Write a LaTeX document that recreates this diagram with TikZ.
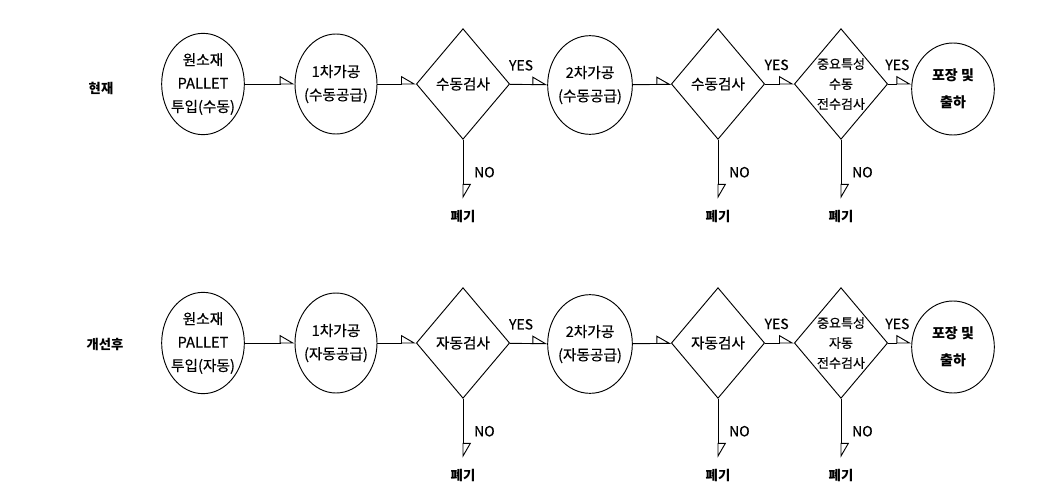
\documentclass[tikz,border=0pt]{standalone}
\usepackage{fontspec}
\setmainfont{Noto Sans CJK KR}
\newfontfamily\heavyfont[FakeBold=0.4]{Noto Sans CJK KR}
\usetikzlibrary{arrows.meta}
\usetikzlibrary{shapes.geometric}

\begin{document}
\begin{tikzpicture}[x=0.75pt, y=-0.75pt, line width=0.7pt,
  stage/.style={ellipse, draw, align=center, inner sep=-6pt, font=\heavyfont\fontsize{11}{17.5}\selectfont},
  check/.style={diamond, draw, align=center, inner sep=-6pt, minimum width=70pt, minimum height=83pt, font=\heavyfont\fontsize{11}{14}\selectfont},
  keycheck/.style={check, font=\heavyfont\fontsize{9.8}{15}\selectfont},
  flow/.style={-{Triangle[open, left, length=10.5pt, width=12pt]}},
  drop/.style={font=\bfseries\fontsize{10}{12}\selectfont, inner sep=0pt, outer sep=9pt},
  rowlabel/.style={font=\bfseries\fontsize{10}{12}\selectfont},
  answer/.style={font=\heavyfont\fontsize{10.5}{12}\selectfont, inner sep=0pt}]
\useasboundingbox (0,0) rectangle (1056,503);

% current process
\node(lab1)[rowlabel] at (101,88) {현재};
\node(raw1)[stage, minimum width=62pt, minimum height=76pt] at (203,84) {원소재\\PALLET\\투입(수동)};
\node(cut1a)[stage, minimum width=61.5pt, minimum height=75pt] at (336,84) {1차가공\\(수동공급)};
\node(chk1a)[check] at (463,84) {수동검사};
\node(cut1b)[stage, minimum width=63.5pt, minimum height=74pt] at (590,85) {2차가공\\(수동공급)};
\node(chk1b)[check] at (718,84) {수동검사};
\node(chk1c)[keycheck] at (841,84) {중요특성\\수동\\전수검사};
\node(ship1)[stage, minimum width=62pt, minimum height=69pt, font=\bfseries\fontsize{10.5}{20}\selectfont] at (953,89) {포장 및\\출하};
\node(drop1a)[drop] at (463,217) {폐기};
\node(drop1b)[drop] at (718,217) {폐기};
\node(drop1c)[drop] at (841,217) {폐기};

\draw[flow] (raw1) -- (cut1a);
\draw[flow] (cut1a) -- (chk1a);
\draw[flow] (chk1a) -- node(yes1a)[answer, above=10pt, pos=0.3] {YES} (cut1b);
\draw[flow] (cut1b) -- (chk1b);
\draw[flow] (chk1b) -- node(yes1b)[answer, above=10pt, pos=0.4] {YES} (chk1c);
\draw[flow] (chk1c.east) -- node(yes1c)[answer, above=10pt, pos=0.4] {YES} (chk1c.east -| ship1.west);
\draw[flow] (chk1a) -- node(no1a)[answer, right=8pt, pos=0.55] {NO} (drop1a);
\draw[flow] (chk1b) -- node(no1b)[answer, right=8pt, pos=0.55] {NO} (drop1b);
\draw[flow] (chk1c) -- node(no1c)[answer, right=8pt, pos=0.55] {NO} (drop1c);

% improved process
\node(lab2)[rowlabel] at (105,345) {개선후};
\node(raw2)[stage, minimum width=62pt, minimum height=76pt] at (203,343) {원소재\\PALLET\\투입(자동)};
\node(cut2a)[stage, minimum width=61.5pt, minimum height=75pt] at (336,343) {1차가공\\(자동공급)};
\node(chk2a)[check] at (463,343) {자동검사};
\node(cut2b)[stage, minimum width=63.5pt, minimum height=74pt] at (590,344) {2차가공\\(자동공급)};
\node(chk2b)[check] at (718,343) {자동검사};
\node(chk2c)[keycheck] at (841,343) {중요특성\\자동\\전수검사};
\node(ship2)[stage, minimum width=62pt, minimum height=69pt, font=\bfseries\fontsize{10.5}{20}\selectfont] at (953,347) {포장 및\\출하};
\node(drop2a)[drop] at (463,476) {폐기};
\node(drop2b)[drop] at (718,476) {폐기};
\node(drop2c)[drop] at (841,476) {폐기};

\draw[flow] (raw2) -- (cut2a);
\draw[flow] (cut2a) -- (chk2a);
\draw[flow] (chk2a) -- node(yes2a)[answer, above=10pt, pos=0.3] {YES} (cut2b);
\draw[flow] (cut2b) -- (chk2b);
\draw[flow] (chk2b) -- node(yes2b)[answer, above=10pt, pos=0.4] {YES} (chk2c);
\draw[flow] (chk2c.east) -- node(yes2c)[answer, above=10pt, pos=0.4] {YES} (chk2c.east -| ship2.west);
\draw[flow] (chk2a) -- node(no2a)[answer, right=8pt, pos=0.55] {NO} (drop2a);
\draw[flow] (chk2b) -- node(no2b)[answer, right=8pt, pos=0.55] {NO} (drop2b);
\draw[flow] (chk2c) -- node(no2c)[answer, right=8pt, pos=0.55] {NO} (drop2c);
\end{tikzpicture}
\end{document}
